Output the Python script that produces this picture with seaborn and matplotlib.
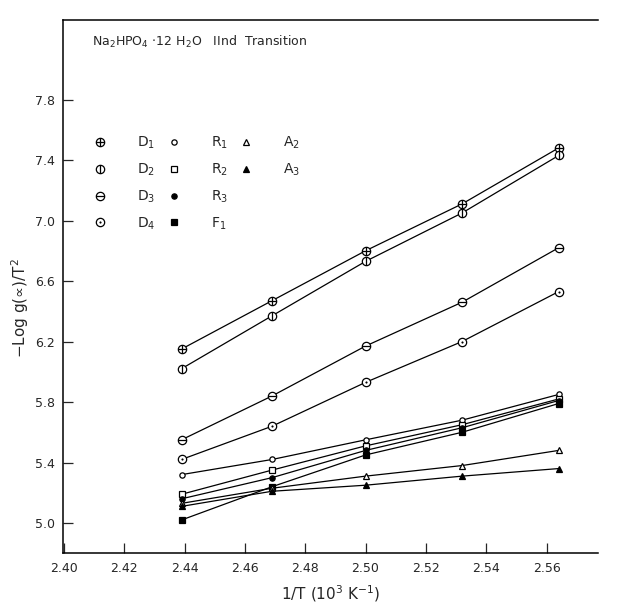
# Na2HPO4.12H2O, IInd transition: -log g(a)/T^2 against 1/T
import numpy as np
import seaborn as sns
import matplotlib
matplotlib.use('Agg')
import matplotlib.pyplot as plt
from matplotlib.path import Path
from matplotlib.lines import Line2D

# data
inv_t = [2.439, 2.469, 2.500, 2.532, 2.564]
D1 = [6.15, 6.47, 6.80, 7.11, 7.48]
D2 = [6.02, 6.37, 6.73, 7.05, 7.43]
D3 = [5.55, 5.84, 6.17, 6.46, 6.82]
D4 = [5.42, 5.64, 5.93, 6.20, 6.53]
R1 = [5.32, 5.42, 5.55, 5.68, 5.85]
R2 = [5.19, 5.35, 5.51, 5.65, 5.82]
R3 = [5.16, 5.30, 5.48, 5.63, 5.81]
F1 = [5.02, 5.24, 5.45, 5.60, 5.79]
A2 = [5.13, 5.23, 5.31, 5.38, 5.48]
A3 = [5.11, 5.21, 5.25, 5.31, 5.36]

names = ['D1', 'D2', 'D3', 'D4', 'R1', 'R2', 'R3', 'F1', 'A2', 'A3']
values = [D1, D2, D3, D4, R1, R2, R3, F1, A2, A3]
labels = ['D$_1$', 'D$_2$', 'D$_3$', 'D$_4$', 'R$_1$', 'R$_2$', 'R$_3$',
          'F$_1$', 'A$_2$', 'A$_3$']
xticks = [2.40, 2.42, 2.44, 2.46, 2.48, 2.50, 2.52, 2.54, 2.56]
yticks = [5.0, 5.4, 5.8, 6.2, 6.6, 7.0, 7.4, 7.8]


# circle markers with a stroke through them
def circ_with(segs):
    verts = list(Path.unit_circle().vertices)
    codes = list(Path.unit_circle().codes)
    for a, b in segs:
        verts += [a, b]
        codes += [Path.MOVETO, Path.LINETO]
    return Path(verts, codes)


d = 0.22
mk = {
    'D1': circ_with([((-1, 0), (1, 0)), ((0, -1), (0, 1))]),
    'D2': circ_with([((0, -1), (0, 1))]),
    'D3': circ_with([((-1, 0), (1, 0))]),
    'D4': circ_with([((-d, 0), (d, 0)), ((0, -d), (0, d))]),
    'R1': 'o', 'R2': 's', 'R3': 'o', 'F1': 's', 'A2': '^', 'A3': '^',
}
ms = {'D1': 6, 'D2': 6, 'D3': 6, 'D4': 6, 'R1': 3.8, 'R2': 4.5,
      'R3': 3.8, 'F1': 4.5, 'A2': 5, 'A3': 5}
mfc = {'D1': 'w', 'D2': 'w', 'D3': 'w', 'D4': 'w', 'R1': 'w', 'R2': 'w',
       'R3': 'k', 'F1': 'k', 'A2': 'w', 'A3': 'k'}

sns.set_style('ticks')
plt.rcParams['font.family'] = ['DejaVu Sans']

fig = plt.figure(figsize=(6.17, 6.10), dpi=100)
ax = fig.add_axes([0.102, 0.093, 0.867, 0.874])

for n, v in zip(names, values):
    sns.lineplot(x=inv_t, y=v, ax=ax, color='k', lw=0.9, marker=mk[n],
                 markersize=ms[n], mfc=mfc[n], mec='k', mew=0.9, zorder=3)

# legend in three columns: D, R/F, A
handles = [Line2D([], [], ls='none', marker=mk[n], markersize=ms[n],
                  mfc=mfc[n], mec='k', mew=0.9, color='k') for n in names]
blank = Line2D([], [], ls='none')
ax.legend(handles + [blank, blank], labels + ['', ''], ncol=3,
          loc='upper left', bbox_to_anchor=(0.056, 0.785), frameon=False,
          fontsize=10, handlelength=1.0, handletextpad=2.15,
          columnspacing=0.85, labelspacing=0.75, borderpad=0,
          borderaxespad=0)

ax.text(0.055, 0.975, r'Na$_2$HPO$_4$ $\cdot$12 H$_2$O   IInd  Transition',
        transform=ax.transAxes, fontsize=9, va='top', ha='left')

ax.set_xlim(2.3997, 2.577)
ax.set_ylim(4.80, 8.325)
ax.set_xticks(xticks)
ax.set_xticklabels([f'{t:.2f}' for t in xticks])
ax.set_yticks(yticks)
ax.set_yticklabels([f'{t:.1f}' for t in yticks])
ax.tick_params(direction='in', length=7, width=0.9, labelsize=9, pad=6)
ax.spines['right'].set_visible(False)
for s in ['left', 'bottom', 'top']:
    ax.spines[s].set_color('k')
    ax.spines[s].set_linewidth(1.1)

ax.set_xlabel('1/T (10$^3$ K$^{-1}$)', fontsize=11, labelpad=6)
ax.set_ylabel('$-$Log g(∝)/T$^2$', fontsize=11)
ax.yaxis.set_label_coords(-0.06, 0.46)

fig.savefig('out.png', dpi=100)
